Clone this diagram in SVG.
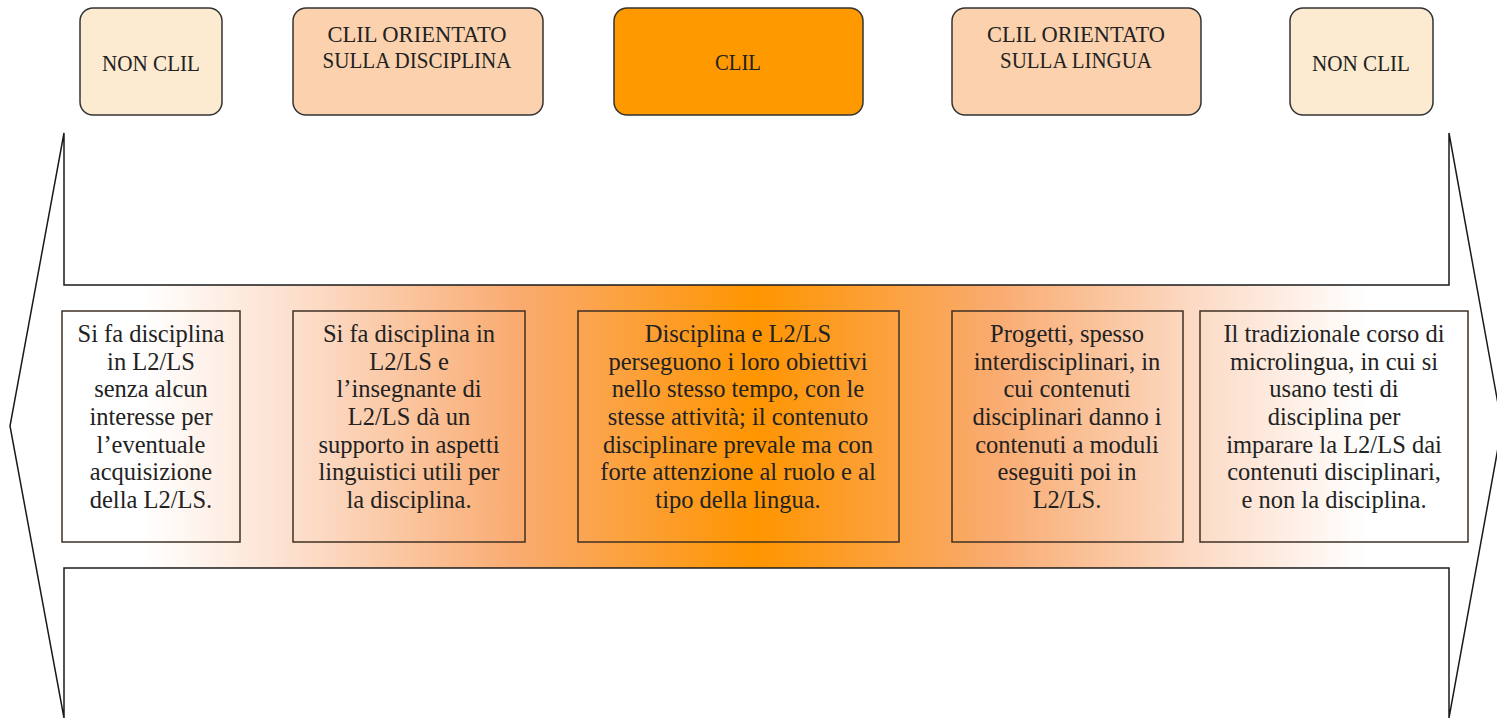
<svg xmlns="http://www.w3.org/2000/svg" width="1497" height="718" viewBox="0 0 1497 718">
  <style>
    .top { stroke: #333333; stroke-width: 1.5; }
    .cream { fill: #FDEBD1; }
    .peach { fill: #FCD2AE; }
    .orange { fill: #FF9900; }
    .lbl { font-family: "Liberation Serif", "Times New Roman", serif; font-size: 23px; fill: #222222; text-anchor: middle; }
    .box { fill: none; stroke: #3f3024; stroke-width: 1.5; }
    .txt { font-family: "Liberation Serif", "Times New Roman", serif; font-size: 24.5px; fill: #222222; text-anchor: middle; }
    .outline { stroke: #1a1a1a; stroke-width: 1.5; stroke-linejoin: miter; }
  </style>
  <defs>
    <linearGradient id="band" gradientUnits="userSpaceOnUse" x1="10" y1="0" x2="1502" y2="0">
      <stop offset="0" stop-color="#FFFFFF"/>
      <stop offset="0.09" stop-color="#FFFFFF"/>
      <stop offset="0.2" stop-color="#FCDCC8"/>
      <stop offset="0.34" stop-color="#F9AB70"/>
      <stop offset="0.5" stop-color="#FF9500"/>
      <stop offset="0.66" stop-color="#F9AB70"/>
      <stop offset="0.8" stop-color="#FCDCC8"/>
      <stop offset="0.91" stop-color="#FFFFFF"/>
      <stop offset="1" stop-color="#FFFFFF"/>
    </linearGradient>
  </defs>
  <rect width="1497" height="718" fill="#FFFFFF"/>

  <g id="arrow">
    <path class="outline" fill="url(#band)" d="M64,133 L64,285 L1449,285 L1449,133 L1502,426 L1449,718 L1449,568 L64,568 L64,718 L10,426 Z"/>
  </g>

  <g id="node-non-clil-left">
    <rect class="top cream" x="80" y="8" width="142" height="107" rx="13"/>
    <text class="lbl" x="151" y="71" textLength="98" lengthAdjust="spacingAndGlyphs">NON CLIL</text>
  </g>
  <g id="node-clil-disciplina">
    <rect class="top peach" x="293" y="8" width="250" height="107" rx="13"/>
    <text class="lbl" x="417" y="42" textLength="179" lengthAdjust="spacingAndGlyphs">CLIL ORIENTATO</text>
    <text class="lbl" x="417" y="68" textLength="189" lengthAdjust="spacingAndGlyphs">SULLA DISCIPLINA</text>
  </g>
  <g id="node-clil">
    <rect class="top orange" x="614" y="8" width="249" height="107" rx="13"/>
    <text class="lbl" x="738" y="70" textLength="46" lengthAdjust="spacingAndGlyphs">CLIL</text>
  </g>
  <g id="node-clil-lingua">
    <rect class="top peach" x="952" y="8" width="249" height="107" rx="13"/>
    <text class="lbl" x="1076" y="42" textLength="178" lengthAdjust="spacingAndGlyphs">CLIL ORIENTATO</text>
    <text class="lbl" x="1076" y="68" textLength="152" lengthAdjust="spacingAndGlyphs">SULLA LINGUA</text>
  </g>
  <g id="node-non-clil-right">
    <rect class="top cream" x="1290" y="8" width="143" height="107" rx="13"/>
    <text class="lbl" x="1361" y="71" textLength="98" lengthAdjust="spacingAndGlyphs">NON CLIL</text>
  </g>

  <g id="desc-1">
    <rect class="box" x="62" y="311" width="178" height="231"/>
    <text class="txt" x="151" y="342">Si fa disciplina</text>
    <text class="txt" x="151" y="370">in L2/LS</text>
    <text class="txt" x="151" y="397">senza alcun</text>
    <text class="txt" x="151" y="425">interesse per</text>
    <text class="txt" x="151" y="453">l’eventuale</text>
    <text class="txt" x="151" y="480">acquisizione</text>
    <text class="txt" x="151" y="508">della L2/LS.</text>
  </g>
  <g id="desc-2">
    <rect class="box" x="293" y="311" width="232" height="231"/>
    <text class="txt" x="409" y="342">Si fa disciplina in</text>
    <text class="txt" x="409" y="370">L2/LS e</text>
    <text class="txt" x="409" y="397">l’insegnante di</text>
    <text class="txt" x="409" y="425">L2/LS dà un</text>
    <text class="txt" x="409" y="453">supporto in aspetti</text>
    <text class="txt" x="409" y="480">linguistici utili per</text>
    <text class="txt" x="409" y="508">la disciplina.</text>
  </g>
  <g id="desc-3">
    <rect class="box" x="578" y="311" width="321" height="231"/>
    <text class="txt" x="738" y="342">Disciplina e L2/LS</text>
    <text class="txt" x="738" y="370">perseguono i loro obiettivi</text>
    <text class="txt" x="738" y="397">nello stesso tempo, con le</text>
    <text class="txt" x="738" y="425">stesse attività; il contenuto</text>
    <text class="txt" x="738" y="453">disciplinare prevale ma con</text>
    <text class="txt" x="738" y="480">forte attenzione al ruolo e al</text>
    <text class="txt" x="738" y="508">tipo della lingua.</text>
  </g>
  <g id="desc-4">
    <rect class="box" x="952" y="311" width="231" height="231"/>
    <text class="txt" x="1067" y="342">Progetti, spesso</text>
    <text class="txt" x="1067" y="370">interdisciplinari, in</text>
    <text class="txt" x="1067" y="397">cui contenuti</text>
    <text class="txt" x="1067" y="425">disciplinari danno i</text>
    <text class="txt" x="1067" y="453">contenuti a moduli</text>
    <text class="txt" x="1067" y="480">eseguiti poi in</text>
    <text class="txt" x="1067" y="508">L2/LS.</text>
  </g>
  <g id="desc-5">
    <rect class="box" x="1200" y="311" width="268" height="231"/>
    <text class="txt" x="1334" y="342">Il tradizionale corso di</text>
    <text class="txt" x="1334" y="370">microlingua, in cui si</text>
    <text class="txt" x="1334" y="397">usano testi di</text>
    <text class="txt" x="1334" y="425">disciplina per</text>
    <text class="txt" x="1334" y="453">imparare la L2/LS dai</text>
    <text class="txt" x="1334" y="480">contenuti disciplinari,</text>
    <text class="txt" x="1334" y="508">e non la disciplina.</text>
  </g>

  <g id="connectors"></g>
</svg>
